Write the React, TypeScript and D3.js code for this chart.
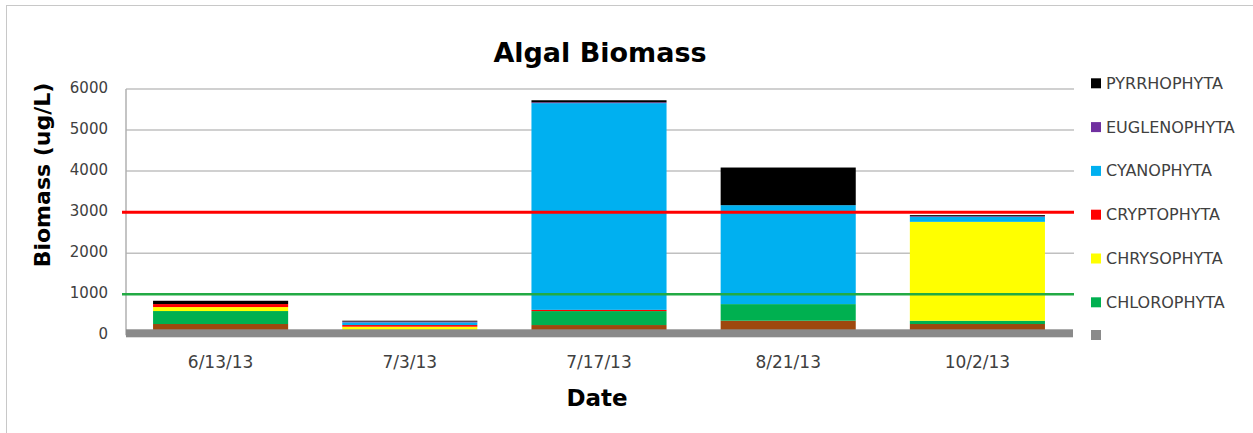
import React from "react";
import * as d3 from "d3";

// chart values
const dates = ["6/13/13", "7/3/13", "7/17/13", "8/21/13", "10/2/13"];
const seriesNames = [
  "BACILLARIOPHYTA",
  "CHLOROPHYTA",
  "CHRYSOPHYTA",
  "CRYPTOPHYTA",
  "CYANOPHYTA",
  "EUGLENOPHYTA",
  "PYRRHOPHYTA",
];
const seriesColors = ["#9E480E", "#00B050", "#FFFF00", "#FF0000", "#00B0F0", "#7030A0", "#000000"];
const bacillariophyta = [275, 60, 250, 355, 275];
const chlorophyta = [316, 0, 340, 405, 80];
const chrysophyta = [97, 150, 0, 0, 2409];
const cryptophyta = [73, 40, 30, 0, 0];
const cyanophyta = [0, 65, 5036, 2410, 122];
const euglenophyta = [0, 20, 20, 0, 15];
const pyrrhophyta = [80, 20, 50, 917, 26];
const yTicks = [0, 1000, 2000, 3000, 4000, 5000, 6000];
const refValues = [3000, 1000];
const refColors = ["#FF0000", "#22AA44"];
// legend shows only six series, top to bottom
const legendNames = ["PYRRHOPHYTA", "EUGLENOPHYTA", "CYANOPHYTA", "CRYPTOPHYTA", "CHRYSOPHYTA", "CHLOROPHYTA"];

const App = () => {
  const width = 1253;
  const height = 433;
  const left = 126;
  const right = 1072;

  const rows = dates.map((d, i) => ({
    date: d,
    BACILLARIOPHYTA: bacillariophyta[i],
    CHLOROPHYTA: chlorophyta[i],
    CHRYSOPHYTA: chrysophyta[i],
    CRYPTOPHYTA: cryptophyta[i],
    CYANOPHYTA: cyanophyta[i],
    EUGLENOPHYTA: euglenophyta[i],
    PYRRHOPHYTA: pyrrhophyta[i],
  }));
  const stacked = d3.stack<any>().keys(seriesNames)(rows);

  const xScale = d3
    .scaleBand()
    .domain(dates)
    .range([left, right])
    .paddingInner(0.286)
    .paddingOuter(0.143);
  const yScale = d3.scaleLinear().domain([0, 6000]).range([335.3, 89]);
  const color = d3.scaleOrdinal<string, string>().domain(seriesNames).range(seriesColors);

  const font = "'DejaVu Sans', sans-serif";
  const textColor = "#404040";

  return (
    <svg
      width={width}
      height={height}
      style={{ position: "absolute", left: 0, top: 0, background: "#fff" }}
    >
      <rect x={6.5} y={5.5} width={1300} height={500} fill="none" stroke="#c8c8c8" />

      <text x={600} y={62} textAnchor="middle" fontFamily={font} fontWeight="bold" fontSize={27} fill="#000">
        Algal Biomass
      </text>

      {/* gridlines */}
      {yTicks.slice(1).map((t) => (
        <line key={t} x1={left} x2={right + 2} y1={yScale(t)} y2={yScale(t)} stroke="#c0c0c0" strokeWidth={1.5} />
      ))}
      <line x1={left} x2={left} y1={yScale(6000)} y2={yScale(0)} stroke="#b0b0b0" strokeWidth={1.5} />

      {/* stacked bars */}
      {stacked.map((layer) => (
        <g key={layer.key} fill={color(layer.key)}>
          {layer.map((seg, i) => (
            <rect
              key={dates[i]}
              x={xScale(dates[i])}
              y={yScale(seg[1])}
              width={xScale.bandwidth()}
              height={Math.max(0, yScale(seg[0]) - yScale(seg[1]))}
            />
          ))}
        </g>
      ))}

      {/* floor */}
      <rect x={left} y={yScale(0) - 6} width={right - left + 1} height={8} fill="#8a8a8a" />

      {/* reference lines */}
      {refValues.map((v, i) => (
        <line key={v} x1={left - 4} x2={right + 2} y1={yScale(v)} y2={yScale(v)} stroke={refColors[i]} strokeWidth={i === 0 ? 3 : 2.5} />
      ))}

      {/* y tick labels */}
      {yTicks.map((t) => (
        <text key={t} x={108} y={yScale(t) - 1} textAnchor="end" dominantBaseline="central" fontFamily={font} fontSize={15} fill={textColor}>
          {t}
        </text>
      ))}

      {/* x tick labels */}
      {dates.map((d) => (
        <text key={d} x={(xScale(d) as number) + xScale.bandwidth() / 2} y={368} textAnchor="middle" fontFamily={font} fontSize={17} fill={textColor}>
          {d}
        </text>
      ))}

      <text x={597} y={406} textAnchor="middle" fontFamily={font} fontWeight="bold" fontSize={23} fill="#000">
        Date
      </text>
      <text
        transform="translate(50,175) rotate(-90)"
        textAnchor="middle"
        fontFamily={font}
        fontWeight="bold"
        fontSize={22}
        fill="#000"
      >
        Biomass (ug/L)
      </text>

      {/* legend */}
      {legendNames.map((name, i) => {
        const cy = 83.3 + i * 43.8;
        return (
          <g key={name}>
            <rect x={1091} y={cy - 5} width={10} height={10} fill={color(name)} />
            <text x={1106} y={cy} dominantBaseline="central" fontFamily={font} fontSize={16} fill={textColor}>
              {name}
            </text>
          </g>
        );
      })}
      <rect x={1091} y={330} width={10} height={10} fill="#8a8a8a" />
    </svg>
  );
};

export default App;
